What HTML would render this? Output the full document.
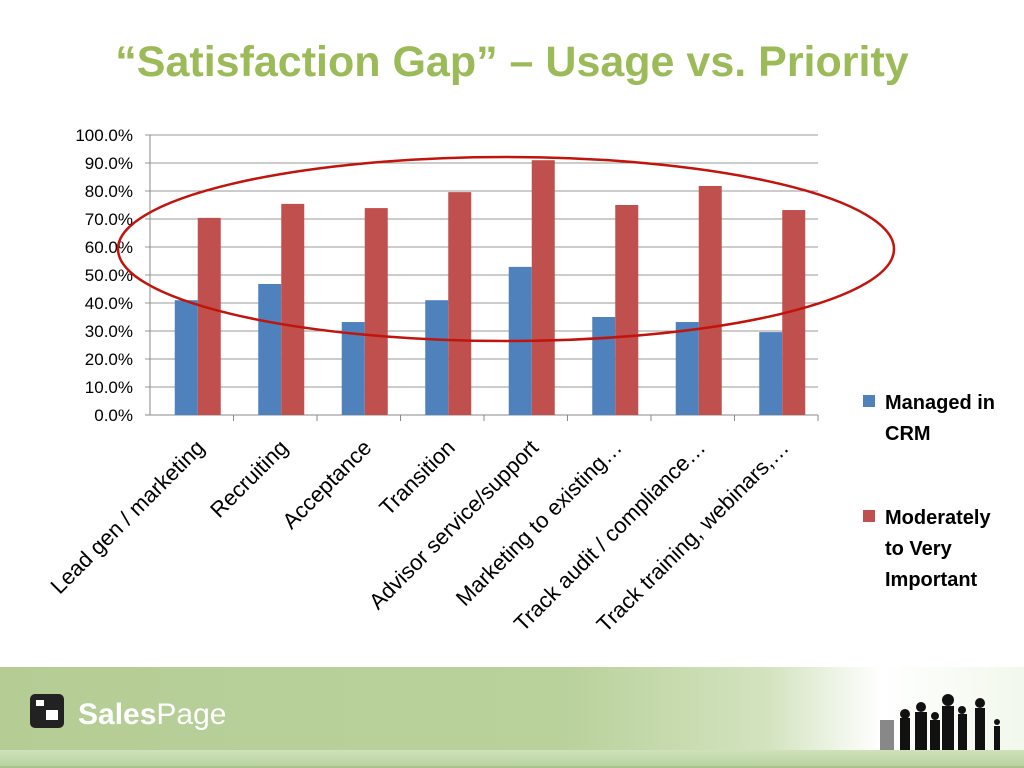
<!DOCTYPE html>
<html><head><meta charset="utf-8"><style>
body{margin:0;width:1024px;height:768px;overflow:hidden;background:#fff;font-family:"Liberation Sans",sans-serif;position:relative}
#title{position:absolute;left:0;width:1024px;top:38px;text-align:center;font-size:43px;font-weight:bold;color:#9bbb59}
#footer{position:absolute;left:0;top:667px;width:1024px;height:83px;background:linear-gradient(90deg,#b5cd95 0%,#b9d19b 55%,#d3e3bf 75%,#fff 86%,#f2f8ec 100%)}
#footer2{position:absolute;left:0;top:750px;width:1024px;height:16px;background:linear-gradient(180deg,#cfe2bb,#b9d3a0)}
#footline{position:absolute;left:0;top:766px;width:1024px;height:2px;background:#a8c38a}
</style></head><body>
<div id="title">“Satisfaction Gap” – Usage vs. Priority</div>
<div id="footer"></div>
<div id="footer2"></div>
<div id="footline"></div>
<svg id="logo" style="position:absolute;left:28px;top:690px" width="220" height="50">
<rect x="2" y="4" width="34" height="34" rx="5" fill="#222"/>
<rect x="8" y="10" width="8" height="6" fill="#fff"/><rect x="18" y="20" width="12" height="10" fill="#fff"/>
<text x="50" y="34" font-family="Liberation Sans" font-size="30" fill="#fff"><tspan font-weight="bold">Sales</tspan>Page</text>
</svg>
<svg style="position:absolute;left:870px;top:690px" width="150" height="62">
<g fill="#111">
<rect x="30" y="28" width="10" height="32"/><circle cx="35" cy="24" r="5"/>
<rect x="45" y="22" width="12" height="38"/><circle cx="51" cy="17" r="5"/>
<rect x="60" y="30" width="10" height="30"/><circle cx="65" cy="26" r="4"/>
<rect x="72" y="16" width="12" height="44"/><circle cx="78" cy="10" r="6"/>
<rect x="88" y="24" width="9" height="36"/><circle cx="92" cy="20" r="4"/>
<rect x="105" y="18" width="10" height="42"/><circle cx="110" cy="13" r="5"/>
<rect x="124" y="36" width="6" height="24"/><circle cx="127" cy="32" r="3"/>
</g><rect x="10" y="30" width="14" height="30" fill="#888"/></svg>
<svg id="chart" width="1024" height="640" style="position:absolute;left:0;top:0"></svg>
<script>
const categories=["Lead gen / marketing","Recruiting","Acceptance","Transition","Advisor service/support","Marketing to existing…","Track audit / compliance…","Track training, webinars,…"];
const managed=[41,46.8,33.2,41,52.9,35,33.2,29.6];
const important=[70.4,75.4,73.9,79.6,91,75,81.8,73.2];
const ticks=[0,10,20,30,40,50,60,70,80,90,100];
const tickLabels=ticks.map(t=>t.toFixed(1)+"%");
const svg=document.getElementById('chart');const NS="http://www.w3.org/2000/svg";
const x0=150,x1=818,y0=415,y1=135;
const y=v=>y0-(v/100)*(y0-y1);const bw=(x1-x0)/categories.length;const x=i=>x0+i*bw;
function el(t,a,p){const e=document.createElementNS(NS,t);for(const k in a)e.setAttribute(k,a[k]);(p||svg).appendChild(e);return e;}
ticks.forEach((t,i)=>{const g=el('line',{x1:x0-5,x2:x1,y1:y(t),y2:y(t),stroke:t===0?'#888':'#999','stroke-width':1});


const l=el('text',{x:x0-17,y:y(t)+6,'text-anchor':'end','font-size':17,fill:'#000'});l.textContent=tickLabels[i];

});
const ax=el('line',{x1:x0,x2:x0,y1:y1,y2:y0,stroke:'#888'});


categories.forEach((c,i)=>{const cx=x(i)+bw/2+6;
const tk=el('line',{x1:x(i+1),x2:x(i+1),y1:y0,y2:y0+6,stroke:'#888'});


const b1=el('rect',{x:cx-23,y:y(managed[i]),width:23,height:y0-y(managed[i]),fill:'#4f81bd'});


const b2=el('rect',{x:cx,y:y(important[i]),width:23,height:y0-y(important[i]),fill:'#c0504d'});


const t=el('text',{x:cx+8,y:y0+34,'text-anchor':'end','font-size':22,fill:'#000',transform:`rotate(-45 ${cx+8} ${y0+34})`});t.textContent=c;

});
const ell=el('ellipse',{cx:506,cy:249,rx:388,ry:92,fill:'none',stroke:'#c0140c','stroke-width':2.5});


const leg=[["#4f81bd",["Managed in","CRM"],402],["#c0504d",["Moderately","to Very","Important"],517]];
leg.forEach(L=>{const r=el('rect',{x:863,y:L[2]-7,width:12,height:12,fill:L[0]});


L[1].forEach((s,j)=>{const t=el('text',{x:885,y:L[2]+7+j*31,'font-size':20,'font-weight':'bold',fill:'#000'});t.textContent=s;

});});
</script>
</body></html>
